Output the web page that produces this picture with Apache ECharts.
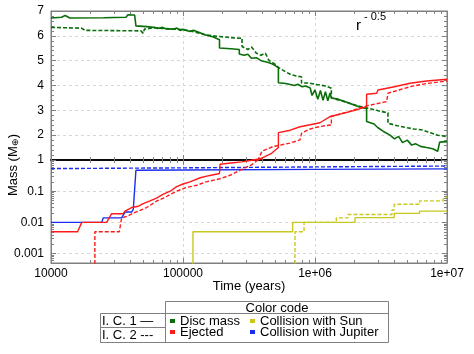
<!DOCTYPE html>
<html><head><meta charset="utf-8">
<script src="https://cdn.jsdelivr.net/npm/echarts@6/dist/echarts.min.js"></script>
<style>html,body{margin:0;padding:0;background:#fff}#c{width:474px;height:354px}</style>
</head><body><div id="c"></div>
<script>
// ---- data (time in years, mass in Earth masses) ----
const xTickLabels = ['10000', '100000', '1e+06', '1e+07'];
const yUpperLabels = ['1', '2', '3', '4', '5', '6', '7'];
const yLowerLabels = ['0.001', '0.01', '0.1', '1'];

const discIC1 = [[1e4,6.72],[1.2e4,6.75],[1.28e4,6.82],[1.39e4,6.72],[2.5e4,6.73],[3.7e4,6.75],[3.83e4,6.85],[4.3e4,6.84],[4.4e4,6.40],[5.3e4,6.37],[6.0e4,6.34],[6.5e4,6.30],[7.0e4,6.34],[7.5e4,6.28],[8.5e4,6.27],[9.0e4,6.31],[9.5e4,6.22],[1.0e5,6.26],[1.13e5,6.17],[1.2e5,6.22],[1.3e5,6.15],[1.47e5,6.04],[1.7e5,5.95],[1.89e5,5.84],[1.89e5,5.51],[2.3e5,5.48],[2.67e5,5.45],[2.67e5,5.27],[2.9e5,5.22],[3.1e5,5.26],[3.3e5,5.10],[3.6e5,5.12],[3.9e5,5.0],[4.3e5,4.95],[4.6e5,4.9],[5.0e5,4.8],[5.28e5,4.71],[5.28e5,4.11],[6.0e5,4.08],[7.0e5,4.0],[7.4e5,4.05],[8.0e5,3.95],[8.5e5,3.98],[9.2e5,3.9],[9.5e5,3.6],[1.0e6,3.82],[1.05e6,3.45],[1.1e6,3.8],[1.15e6,3.4],[1.2e6,3.75],[1.25e6,3.38],[1.3e6,3.7],[1.33e6,3.5],[1.5e6,3.45],[1.7e6,3.35],[2.0e6,3.2],[2.2e6,3.12],[2.46e6,3.08],[2.46e6,2.55],[2.8e6,2.45],[3.0e6,2.3],[3.3e6,2.15],[3.7e6,2.0],[4.0e6,1.85],[4.3e6,1.95],[4.6e6,1.7],[5.0e6,1.8],[5.4e6,1.6],[5.8e6,1.65],[6.3e6,1.55],[7.0e6,1.5],[7.8e6,1.45],[8.5e6,1.35],[8.8e6,1.35],[8.8e6,1.72],[1e7,1.74]];
const discIC2 = [[1e4,6.34],[1.7e4,6.31],[1.81e4,6.22],[3.0e4,6.21],[4.8e4,6.2],[5.0e4,6.1],[5.1e4,6.27],[5.3e4,6.28],[6.0e4,6.33],[7.0e4,6.3],[8.5e4,6.27],[1.0e5,6.25],[1.13e5,6.2],[1.3e5,6.12],[1.47e5,6.04],[1.8e5,5.98],[2.2e5,5.94],[2.67e5,5.9],[2.8e5,5.91],[2.8e5,5.57],[3.1e5,5.45],[3.3e5,5.55],[3.6e5,5.3],[3.9e5,5.22],[4.2e5,5.3],[4.5e5,5.0],[5.0e5,4.85],[5.3e5,4.72],[6.0e5,4.55],[6.5e5,4.45],[7.4e5,4.37],[7.9e5,4.35],[7.9e5,4.1],[9.0e5,4.1],[1.0e6,4.05],[1.2e6,3.98],[1.33e6,3.89],[1.33e6,3.5],[1.5e6,3.42],[1.8e6,3.3],[2.1e6,3.18],[2.46e6,3.1],[2.93e6,3.0],[3.2e6,2.95],[3.57e6,2.9],[3.57e6,2.48],[4.2e6,2.38],[5.0e6,2.3],[5.6e6,2.25],[6.5e6,2.21],[7.5e6,2.1],[8.5e6,2.0],[1e7,1.94]];
const ejectIC1 = [[1e4,0.005],[1.59e4,0.005],[1.71e4,0.01],[2.64e4,0.01],[2.88e4,0.019],[3.51e4,0.019],[3.64e4,0.023],[4.08e4,0.03],[4.6e4,0.033],[5.0e4,0.04],[5.62e4,0.049],[6.3e4,0.06],[7.1e4,0.08],[8.0e4,0.1],[8.95e4,0.14],[1.0e5,0.17],[1.13e5,0.2],[1.35e5,0.27],[1.6e5,0.32],[1.89e5,0.37],[1.91e5,0.73],[2.3e5,0.8],[2.79e5,0.87],[3.41e5,1.0],[3.84e5,1.05],[4.69e5,1.27],[5.28e5,1.5],[5.28e5,2.1],[6.5e5,2.2],[7.7e5,2.34],[9.2e5,2.42],[1.09e6,2.5],[1.3e6,2.75],[1.63e6,2.88],[2.0e6,3.0],[2.46e6,3.15],[2.46e6,3.65],[2.93e6,3.69],[3.0e6,3.82],[4.0e6,3.95],[5.24e6,4.09],[7.0e6,4.18],[1e7,4.25]];
const ejectIC2 = [[2.15e4,0.0003],[2.15e4,0.005],[3.29e4,0.005],[3.43e4,0.014],[3.83e4,0.016],[4.2e4,0.02],[4.6e4,0.023],[5.3e4,0.03],[6.31e4,0.048],[7.1e4,0.06],[8.95e4,0.1],[1.05e5,0.13],[1.27e5,0.155],[1.5e5,0.2],[1.9e5,0.25],[2.3e5,0.33],[2.79e5,0.5],[3.3e5,0.7],[3.7e5,1.0],[3.97e5,1.36],[4.8e5,1.54],[6.46e5,1.68],[7.7e5,1.81],[7.92e5,2.08],[9.2e5,2.25],[1.09e6,2.35],[1.33e6,2.41],[1.33e6,2.75],[1.8e6,2.95],[2.46e6,3.18],[3.49e6,3.35],[3.57e6,3.69],[5.24e6,3.95],[7.0e6,4.08],[1e7,4.18]];
const jupIC1 = [[1e4,0.01],[2.42e4,0.01],[2.49e4,0.014],[3.43e4,0.014],[3.64e4,0.0215],[4.08e4,0.0215],[4.2e4,0.026],[4.33e4,0.026],[4.4e4,0.47],[1e5,0.48],[1e6,0.5],[1e7,0.52]];
const jupIC2 = [[1e4,0.53],[1e5,0.56],[1e6,0.6],[1e7,0.64]];
const sunIC1 = [[1.19e5,0.0003],[1.19e5,0.005],[6.77e5,0.005],[6.77e5,0.01],[2.01e6,0.01],[2.01e6,0.0142],[3.98e6,0.0142],[3.98e6,0.0195],[6.2e6,0.0195],[6.2e6,0.023],[1e7,0.023]];
const sunIC2 = [[7.05e5,0.0003],[7.05e5,0.005],[8.26e5,0.005],[8.26e5,0.01],[1.45e6,0.01],[1.45e6,0.014],[1.78e6,0.014],[1.78e6,0.018],[3.83e6,0.018],[3.83e6,0.025],[3.98e6,0.025],[3.98e6,0.038],[6.2e6,0.038],[6.2e6,0.049],[9.35e6,0.049],[9.35e6,0.058],[1e7,0.065]];

// ---- styling ----
const FONT = 'Liberation Sans';
const C = {disc:'#0a6e0a', eject:'#ff1a1a', sun:'#c8c820', jup:'#1a2cf0'};
const GRAY = '#808080';
const chart = echarts.init(document.getElementById('c'), null, {renderer:'canvas'});

function xLab(v){ const i = Math.round(Math.log10(v)) - 4; return xTickLabels[i] !== undefined ? xTickLabels[i] : ''; }
const minorLog = {show:true, splitNumber:9, length:3, lineStyle:{color:GRAY}};
function xAxisDef(grid, pos, opts){
  return Object.assign({
    type:'log', logBase:10, min:1e4, max:1e7, gridIndex:grid, position:pos,
    axisLine:{show:true, lineStyle:{color:GRAY, width:1}},
    axisTick:{show:true, inside:true, length:5, lineStyle:{color:GRAY}},
    minorTick:minorLog,
    axisLabel:{show:false},
    splitLine:{show:false}
  }, opts||{});
}
const split = {show:true, lineStyle:{color:'#d8d8d8', type:[3,3], width:1}};

const series = [];
function addSeries(data, color, dashed, grids, width){
  grids.forEach(g => {
    series.push({
      type:'line', data:data, xAxisIndex:g===0?0:2, yAxisIndex:g===0?0:2,
      showSymbol:false, symbol:'none', clip:true, animation:false,
      lineStyle:{color:color, width:width||1.4, type: dashed ? [4,2] : 'solid'}
    });
  });
}
addSeries(discIC1, C.disc, false, [0], 1.6);
addSeries(discIC2, C.disc, true, [0], 1.6);
addSeries(jupIC1, C.jup, false, [1]);
addSeries(jupIC2, C.jup, true, [1]);
addSeries(sunIC1, C.sun, false, [1]);
addSeries(sunIC2, C.sun, true, [1]);
addSeries(ejectIC1, C.eject, false, [0,1]);
addSeries(ejectIC2, C.eject, true, [0,1]);

const gl = 51, gw = 396;
const legendItems = [
  ['Disc mass', C.disc, 170, 321],
  ['Collision with Sun', C.sun, 250, 321],
  ['Ejected', C.eject, 170, 332],
  ['Collision with Jupiter', C.jup, 250, 332]
];
const graphic = [
  {type:'text', x:13, y:165, rotation:Math.PI/2, style:{text:'{a|Mass (M}{b|⊕}{a|)}', align:'center', verticalAlign:'middle',
    rich:{a:{fontFamily:FONT, fontSize:13, fill:'#000'}, b:{fontFamily:FONT, fontSize:9, fill:'#000', padding:[6,0,0,0]}}}},
  {type:'text', x:356, y:18, style:{text:'r', fontFamily:FONT, fontSize:15, fill:'#000'}},
  {type:'text', x:364, y:11, style:{text:'- 0.5', fontFamily:FONT, fontSize:11, fill:'#000'}},
  {type:'text', x:249, y:286, style:{text:'Time (years)', fontFamily:FONT, fontSize:13, fill:'#000', align:'center', verticalAlign:'middle'}},
  // legend table
  {type:'rect', shape:{x:165.5, y:301.5, width:223, height:41}, style:{fill:'none', stroke:GRAY, lineWidth:1}},
  {type:'line', shape:{x1:165.5, y1:313.5, x2:388.5, y2:313.5}, style:{stroke:GRAY, lineWidth:1}},
  {type:'rect', shape:{x:100.5, y:313.5, width:65, height:29}, style:{fill:'none', stroke:GRAY, lineWidth:1}},
  {type:'line', shape:{x1:100.5, y1:327.5, x2:165.5, y2:327.5}, style:{stroke:GRAY, lineWidth:1}},
  {type:'text', x:277, y:308, style:{text:'Color code', fontFamily:FONT, fontSize:13, fill:'#000', align:'center', verticalAlign:'middle'}},
  {type:'text', x:102, y:321, style:{text:'I. C. 1 —', fontFamily:FONT, fontSize:13, fill:'#000', verticalAlign:'middle'}},
  {type:'text', x:102, y:335, style:{text:'I. C. 2 ---', fontFamily:FONT, fontSize:13, fill:'#000', verticalAlign:'middle'}}
];
legendItems.forEach(it => {
  graphic.push({type:'rect', shape:{x:it[2], y:it[3]-2, width:5, height:4}, style:{fill:it[1]}});
  graphic.push({type:'text', x:it[2]+10, y:it[3], style:{text:it[0], fontFamily:FONT, fontSize:13, fill:'#000', verticalAlign:'middle'}});
});

chart.setOption({
  animation:false,
  backgroundColor:'#fff',
  textStyle:{fontFamily:FONT},
  grid:[
    {left:gl, top:11, width:gw, height:149, show:true, borderColor:GRAY, borderWidth:1},
    {left:gl, top:160, width:gw, height:103, show:true, borderColor:GRAY, borderWidth:1}
  ],
  xAxis:[
    xAxisDef(0,'bottom',{axisLine:{show:true, lineStyle:{color:'#000', width:1.5}}, splitLine:split}),
    xAxisDef(0,'top'),
    xAxisDef(1,'bottom',{splitLine:split, axisLabel:{show:true, formatter:xLab, fontFamily:FONT, fontSize:12, color:'#000', margin:5}}),
    xAxisDef(1,'top',{axisLine:{show:true, lineStyle:{color:'#000', width:1.5}}})
  ],
  yAxis:[
    {type:'value', gridIndex:0, min:1, max:7, interval:1, position:'left',
      axisLine:{show:true, lineStyle:{color:GRAY}}, axisTick:{show:true, inside:true, length:5, lineStyle:{color:GRAY}},
      minorTick:{show:true, splitNumber:5, length:3, lineStyle:{color:GRAY}},
      axisLabel:{showMinLabel:false, fontFamily:FONT, fontSize:12, color:'#000', margin:7, formatter:(v)=>yUpperLabels[Math.round(v)-1]},
      splitLine:split},
    {type:'value', gridIndex:0, min:1, max:7, interval:1, position:'right',
      axisLine:{show:true, lineStyle:{color:GRAY}}, axisTick:{show:true, inside:true, length:5, lineStyle:{color:GRAY}},
      minorTick:{show:true, splitNumber:5, length:3, lineStyle:{color:GRAY}},
      axisLabel:{show:false}, splitLine:{show:false}},
    {type:'log', logBase:10, gridIndex:1, min:0.0005, max:1, position:'left',
      axisLine:{show:true, lineStyle:{color:GRAY}}, axisTick:{show:true, inside:true, length:5, lineStyle:{color:GRAY}},
      minorTick:minorLog,
      axisLabel:{showMinLabel:false, fontFamily:FONT, fontSize:12, color:'#000', margin:7,
        formatter:(v)=>{ const i = Math.round(Math.log10(v)) + 3; return yLowerLabels[i] !== undefined ? yLowerLabels[i] : ''; }},
      splitLine:split},
    {type:'log', logBase:10, gridIndex:1, min:0.0005, max:1, position:'right',
      axisLine:{show:true, lineStyle:{color:GRAY}}, axisTick:{show:true, inside:true, length:5, lineStyle:{color:GRAY}},
      minorTick:minorLog,
      axisLabel:{show:false}, splitLine:{show:false}}
  ],
  series:series,
  graphic:graphic
});
</script></body></html>
